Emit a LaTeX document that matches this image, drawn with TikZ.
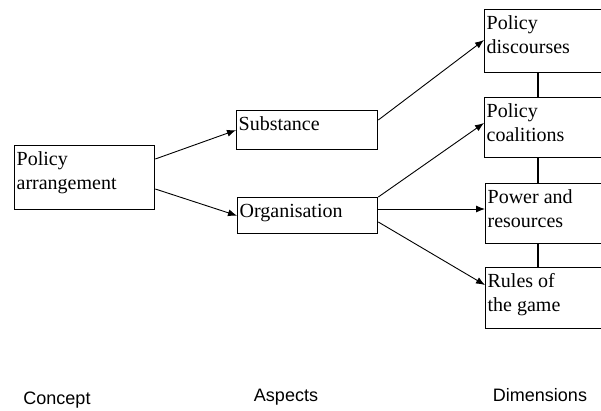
\documentclass[tikz,border=0pt]{standalone}
\usepackage{fontspec}
\setmainfont{Liberation Serif}
\setsansfont{Liberation Sans}
\usetikzlibrary{arrows.meta}

\tikzset{
    box/.style = {draw, line width = 1.3pt, anchor = north west, inner xsep = 2pt, inner ysep = 3pt,
        font = \fontsize{20}{24}\selectfont},
    link/.style = {line width = 0.9pt, -{Latex[length = 9pt, width = 7pt]}},
    level/.style = {font = \sffamily\fontsize{18}{20}\selectfont}
}
\newcommand{\boxtext}[3]{\parbox[t][#2][t]{#1}{\strut #3}}

\begin{document}
\begin{tikzpicture}[x = 1pt, y = -1pt]
        \useasboundingbox (0,0) rectangle (601,410);
        \clip (0,0) rectangle (601,410);
        
        \node[box] (arr) at (14,145) {\boxtext{136pt}{58pt}{Policy\\arrangement}};
        
        \node[box] (sub) at (236,110) {\boxtext{137pt}{33pt}{Substance}};
        \node[box] (org) at (237,197) {\boxtext{136pt}{30pt}{Organisation}};
        
        \node[box] (dis) at (484,9) {\boxtext{126pt}{57pt}{Policy\\discourses}};
        \node[box] (coa) at (484,97) {\boxtext{126pt}{54pt}{Policy\\coalitions}};
        \node[box] (pow) at (485,183) {\boxtext{126pt}{54pt}{Power and\\resources}};
        \node[box] (rul) at (485,267) {\boxtext{126pt}{55pt}{Rules of\\the game}};
        
        \draw[link] ([yshift = -14pt]arr.north east) -- (sub.west);
        \draw[link] ([yshift = -44pt]arr.north east) -- (org.west);
        
        \draw[link] ([yshift = -10pt]sub.north east) -- ([yshift = -31pt]dis.north west);
        \draw[link] (org.north east) -- ([yshift = -26pt]coa.north west);
        \draw[link] ([yshift = -12pt]org.north east) -- ([yshift = -26pt]pow.north west);
        \draw[link] ([yshift = -25pt]org.north east) -- ([yshift = -18pt]rul.north west);
        
        \draw[line width = 1.3pt] ([xshift = 54pt]dis.south west) -- ([xshift = 54pt]coa.north west);
        \draw[line width = 1.3pt] ([xshift = 54pt]coa.south west) -- ([xshift = 53pt]pow.north west);
        \draw[line width = 1.3pt] ([xshift = 53pt]pow.south west) -- ([xshift = 53pt]rul.north west);
        
        \node[level] (concept) at (57,400) {Concept};
        \node[level] (aspects) at (286,397) {Aspects};
        \node[level] (dimensions) at (540,395) {Dimensions};
    \end{tikzpicture}
\end{document}
